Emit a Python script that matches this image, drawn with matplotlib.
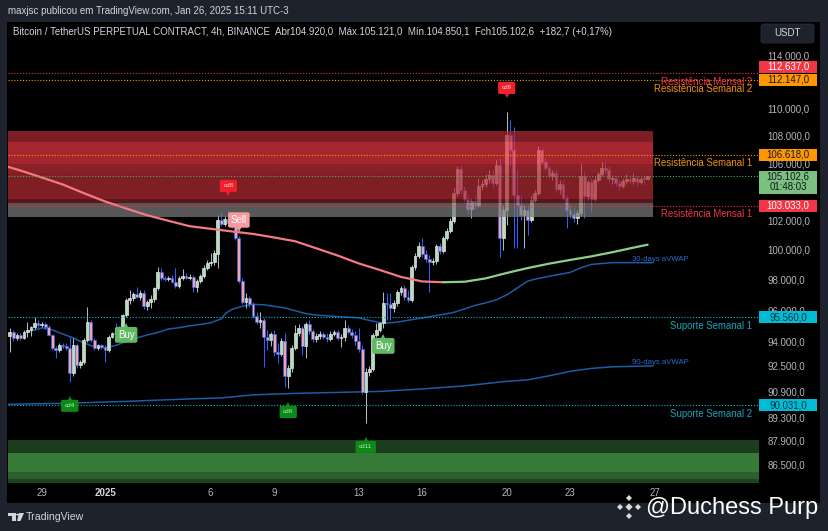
import numpy as np
import pandas as pd
import matplotlib
matplotlib.use("Agg")
import matplotlib.pyplot as plt
import matplotlib.dates as mdates
from matplotlib.patches import Rectangle, Polygon, FancyBboxPatch
from matplotlib.transforms import offset_copy, IdentityTransform, blended_transform_factory
from matplotlib.ticker import NullLocator

plt.rcParams['font.family'] = ['Liberation Sans', 'DejaVu Sans']

W, H = 829, 531

# ---------------- data (prices in thousands of USDT) ----------------
candle_start = "2024-12-27 12:00"   # first 4h candle
open_k = [94.36, 94.61, 94.23, 94.42, 94.23, 94.61, 94.74, 94.93, 95.19, 95.06,
          95.12, 94.93, 94.42, 93.60, 93.47, 93.79, 93.72, 93.60, 92.03, 93.79,
          92.53, 92.72, 94.10, 95.25, 94.10, 93.60, 93.79, 93.66, 93.47, 94.29,
          94.55, 94.48, 94.93, 95.71, 96.68, 96.81, 97.07, 96.87, 97.13, 96.29,
          96.55, 96.74, 97.46, 98.52, 98.12, 98.05, 98.12, 97.86, 97.59, 98.12,
          98.25, 98.12, 98.19, 97.53, 97.92, 98.25, 98.79, 99.12, 99.19, 99.72,
          102.04, 101.76, 102.11, 101.83, 101.69, 100.81, 97.92, 96.55, 96.81, 96.42,
          95.64, 95.25, 95.38, 94.29, 94.10, 94.48, 93.34, 93.22, 94.04, 91.85,
          92.34, 93.60, 94.55, 94.87, 93.72, 95.12, 94.68, 94.16, 94.36, 94.48,
          94.29, 94.16, 94.48, 94.61, 94.23, 94.29, 94.87, 94.61, 94.42, 94.04,
          93.53, 90.86, 92.10, 92.28, 94.42, 94.74, 95.19, 96.48, 96.42, 96.16,
          96.48, 97.20, 97.46, 96.87, 96.68, 98.85, 99.59, 100.26, 99.72, 99.39,
          99.19, 99.26, 100.26, 99.92, 100.81, 101.28, 101.97, 103.91, 105.61, 104.12,
          103.49, 102.80, 103.35, 103.07, 104.40, 104.55, 104.90, 105.18, 104.62, 105.89,
          100.81, 102.73, 108.06, 106.97, 103.77, 103.07, 102.38, 102.73, 102.04, 103.42,
          103.91, 106.97, 106.11, 105.68, 105.11, 105.33, 104.19, 104.55, 103.56, 102.73,
          102.45, 102.18, 102.52, 105.11, 103.70, 104.69, 103.49, 104.83, 105.25, 105.68,
          105.54, 104.90, 104.97, 104.62, 104.40, 104.76, 104.90, 104.76, 104.97, 104.69,
          105.05, 104.920]
high_k = [94.87, 94.74, 94.55, 94.55, 94.74, 95.25, 95.00, 95.57, 95.38, 95.25,
          95.25, 95.06, 94.48, 93.72, 93.91, 93.91, 93.91, 94.29, 94.23, 93.91,
          92.84, 94.23, 96.22, 95.38, 94.23, 93.85, 93.85, 93.79, 94.42, 94.61,
          95.19, 95.00, 95.77, 96.81, 97.33, 97.20, 97.53, 97.33, 97.33, 96.68,
          97.00, 97.53, 98.85, 98.78, 98.25, 98.25, 98.32, 98.78, 98.25, 98.72,
          98.45, 98.39, 98.32, 98.05, 98.39, 98.99, 99.32, 99.79, 99.99, 102.38,
          102.52, 102.31, 102.73, 102.31, 102.04, 100.94, 98.12, 97.13, 96.94, 96.55,
          95.90, 95.90, 95.51, 94.74, 94.61, 94.74, 93.91, 94.23, 94.55, 92.53,
          93.79, 95.06, 95.12, 95.00, 95.25, 95.38, 94.80, 94.55, 94.68, 94.61,
          94.55, 94.68, 94.74, 94.74, 94.48, 95.38, 95.06, 94.80, 94.68, 94.87,
          93.79, 92.34, 92.47, 94.55, 95.19, 95.25, 97.20, 97.13, 97.13, 96.68,
          97.33, 97.59, 97.66, 97.33, 98.99, 99.79, 100.54, 100.81, 99.99, 99.66,
          99.46, 100.40, 100.47, 100.94, 101.49, 102.18, 104.26, 105.82, 105.89, 104.40,
          103.77, 103.56, 103.70, 104.97, 104.83, 105.25, 105.54, 105.54, 106.25, 106.40,
          103.07, 109.75, 109.16, 108.65, 105.54, 103.77, 103.07, 103.07, 103.77, 104.12,
          107.26, 107.12, 106.40, 105.89, 105.54, 105.54, 104.83, 104.83, 103.77, 103.07,
          102.87, 102.73, 106.04, 105.40, 104.83, 104.97, 105.11, 105.40, 106.11, 106.04,
          105.82, 105.18, 105.11, 104.90, 104.97, 105.25, 105.11, 105.33, 105.11, 105.04,
          105.11, 105.121]
low_k = [93.34, 94.04, 94.10, 94.10, 94.16, 94.29, 94.36, 94.80, 94.93, 94.93,
         94.80, 94.36, 93.47, 92.97, 93.34, 93.60, 93.47, 91.48, 91.85, 92.34,
         92.34, 92.59, 93.97, 93.97, 93.47, 93.47, 93.53, 92.72, 93.34, 94.23,
         94.36, 94.42, 94.80, 95.58, 96.42, 96.62, 96.81, 96.68, 96.10, 96.03,
         96.16, 96.55, 97.33, 97.99, 97.92, 97.92, 97.79, 97.46, 97.46, 97.99,
         98.05, 97.99, 97.20, 97.20, 97.79, 98.12, 98.65, 98.92, 98.99, 98.79,
         101.63, 101.63, 101.63, 101.49, 100.67, 97.79, 96.42, 96.16, 96.23, 95.51,
         95.12, 94.87, 92.41, 93.47, 93.72, 93.09, 92.65, 93.09, 91.17, 91.10,
         92.10, 93.47, 94.36, 93.15, 92.97, 94.48, 93.97, 93.97, 94.16, 94.16,
         93.97, 94.04, 94.36, 94.10, 93.66, 94.04, 94.48, 94.23, 93.79, 93.34,
         90.74, 88.98, 91.85, 92.16, 94.29, 94.61, 94.87, 95.38, 95.38, 95.90,
         96.29, 97.00, 96.68, 96.55, 96.55, 98.65, 99.46, 99.52, 99.19, 97.20,
         99.00, 99.06, 99.72, 99.79, 100.67, 101.14, 101.83, 103.70, 103.77, 103.28,
         102.45, 102.18, 102.80, 102.94, 104.12, 104.33, 104.62, 104.26, 104.48, 99.52,
         99.99, 101.69, 105.89, 100.13, 100.13, 102.04, 100.13, 101.01, 101.90, 103.28,
         103.77, 105.89, 105.54, 104.97, 104.83, 103.98, 103.84, 103.42, 101.49, 102.18,
         101.90, 101.76, 102.31, 102.18, 103.42, 102.59, 103.35, 104.69, 105.11, 105.33,
         104.69, 104.55, 104.40, 104.12, 104.26, 104.55, 104.62, 104.55, 104.40, 104.55,
         104.55, 104.8501]
close_k = [94.61, 94.23, 94.42, 94.23, 94.61, 94.74, 94.93, 95.19, 95.06, 95.12,
           94.93, 94.42, 93.60, 93.47, 93.79, 93.72, 93.60, 92.03, 93.79, 92.53,
           92.72, 94.10, 95.25, 94.10, 93.60, 93.79, 93.66, 93.47, 94.29, 94.55,
           94.48, 94.93, 95.71, 96.68, 96.81, 97.07, 96.87, 97.13, 96.29, 96.55,
           96.74, 97.46, 98.52, 98.12, 98.05, 98.12, 97.86, 97.59, 98.12, 98.25,
           98.12, 98.19, 97.53, 97.92, 98.25, 98.79, 99.12, 99.19, 99.79, 102.04,
           101.76, 102.11, 101.83, 101.69, 100.81, 97.92, 96.55, 96.81, 96.42, 95.64,
           95.25, 95.38, 94.29, 94.10, 94.48, 93.34, 93.22, 94.04, 91.85, 92.34,
           93.60, 94.55, 94.87, 93.72, 95.12, 94.68, 94.16, 94.36, 94.48, 94.29,
           94.16, 94.48, 94.61, 94.23, 94.29, 94.87, 94.61, 94.42, 94.04, 93.53,
           90.86, 92.10, 92.28, 94.42, 94.74, 95.19, 96.48, 96.42, 96.16, 96.48,
           97.20, 97.46, 96.87, 96.68, 98.85, 99.59, 100.26, 99.72, 99.39, 99.19,
           99.26, 100.26, 99.92, 100.81, 101.28, 101.97, 103.91, 105.61, 104.12, 103.49,
           102.80, 103.35, 103.07, 104.40, 104.55, 104.90, 105.18, 104.62, 105.89, 100.81,
           102.73, 108.06, 106.97, 103.77, 103.07, 102.38, 102.73, 102.04, 103.42, 103.91,
           106.97, 106.11, 105.68, 105.11, 105.33, 104.19, 104.55, 103.56, 102.73, 102.45,
           102.18, 102.52, 105.11, 103.70, 104.69, 103.49, 104.83, 105.25, 105.68, 105.54,
           104.90, 104.97, 104.62, 104.40, 104.76, 104.90, 104.76, 104.97, 104.69, 104.90,
           104.92, 105.1026]

# moving average (days from 2025-01-01) and anchored VWAPs
ma_days = [-4.6, -4, -3, -2, -1, 0, 1, 2, 3, 4, 5, 6, 7, 8, 9, 10, 11, 12, 13, 14,
           15, 16, 17, 18, 19, 20, 21, 22, 23, 24, 25, 25.67]
ma_k = [105.77, 105.50, 105.01, 104.51, 103.90, 103.32, 102.83, 102.36, 101.98, 101.61,
        101.43, 101.25, 101.08, 100.84, 100.58, 100.10, 99.62, 99.09, 98.65, 98.19,
        97.89, 97.84, 97.87, 98.09, 98.45, 98.78, 99.07, 99.32, 99.56, 99.84, 100.15, 100.35]
v30_days = [-3.7, -3.3, -3, -2.5, -2, -1.5, -1, -0.5, 0, 0.5, 1, 1.5, 2, 2.5, 3, 3.5, 4, 4.5,
            5, 5.5, 5.7, 6, 6.5, 7, 7.5, 8, 8.5, 9, 9.5, 10, 11, 12, 12.5, 13, 13.5, 14, 15,
            16, 16.5, 17, 17.5, 18, 18.5, 19, 19.5, 20, 20.5, 21, 22, 22.5, 23, 24, 25, 25.9]
v30_k = [94.63, 94.74, 94.87, 94.74, 94.48, 94.23, 93.91, 93.66, 93.60, 93.75, 94.01, 94.23,
         94.42, 94.58, 94.80, 94.88, 95.00, 95.09, 95.20, 95.45, 95.80, 96.06, 96.26, 96.39,
         96.36, 96.26, 96.16, 95.97, 95.79, 95.69, 95.60, 95.52, 95.35, 95.22, 95.19, 95.28,
         95.51, 95.74, 95.87, 96.09, 96.32, 96.48, 96.68, 97.00, 97.46, 97.92, 98.09, 98.23,
         98.49, 98.79, 99.02, 99.14, 99.14, 99.14]
v90_days = [-4.6, -2, 1, 4, 5.5, 7, 9, 11, 13, 15, 17, 19, 20, 21, 22, 23, 24, 25.9]
v90_k = [90.10, 90.16, 90.28, 90.43, 90.49, 90.68, 90.77, 90.83, 90.89, 91.04, 91.23, 91.51,
         91.60, 91.85, 92.13, 92.31, 92.41, 92.47]

# zones
red_zone_edges_k = [108.36, 107.58, 105.97, 105.31, 103.50, 103.18, 102.23]
red_zone_end = "2025-01-26 22:00"
green_zone_edges_k = [87.94, 87.21, 86.10, 85.68, 85.0]

# horizontal levels
level_vals = [112637.0, 112147.0, 106618.0, 105102.6, 103033.0, 95560.0, 90031.0]
level_names = ["Resistência Mensal 2", "Resistência Semanal 2", "Resistência Semanal 1", "",
               "Resistência Mensal 1", "Suporte Semanal 1", "Suporte Semanal 2"]
countdown = "01:48:03"

# signals
sig_text = ["cd4", "cd6", "cd11", "cd8", "cd9", "Sell", "Buy", "Buy"]
sig_bar = [17, 79, 101, 62, 141, 65, 33, 106]

# axis
ytick_vals = [114000, 110000, 108000, 106000, 102000, 100000, 98000,
              96000, 94000, 92500, 90900, 89300, 87900, 86500]
xtick_days = [-3, 0, 5, 8, 12, 15, 19, 22, 26]
xtick_labels = ["29", "2025", "6", "9", "13", "16", "20", "23", "27"]

# ---------------- figure ----------------
def brl(v, dec=1):
    s = f"{v:,.{dec}f}"
    return s.replace(",", "X").replace(".", ",").replace("X", ".")

def F(x, y):
    return (x / W, 1 - y / H)

FRAME = '#1e222d'
fig = plt.figure(figsize=(W / 100, H / 100), dpi=100, facecolor=FRAME)
fig.add_artist(Rectangle(F(7.5, 503), (820 - 7.5) / W, (503 - 22) / H,
                         transform=fig.transFigure, facecolor='black', edgecolor='none', zorder=-5))

ax = fig.add_axes([8 / W, 1 - 482 / H, 750 / W, 460 / H])
ax.set_facecolor('black')
for s in ax.spines.values():
    s.set_visible(False)

base = mdates.date2num(pd.Timestamp("2025-01-01"))
xl = (base - 4.589, base + 30.89)

o = np.array(open_k) * 1000
h = np.array(high_k) * 1000
l = np.array(low_k) * 1000
c = np.array(close_k) * 1000
xs = mdates.date2num(pd.date_range(candle_start, periods=len(o), freq="4h"))

ax.set_yscale('log')
ax.set_ylim(85500, 116620)
ax.set_xlim(*xl)

# green zone
gcols = ['#1b3d1d', '#377a38', '#2b602e', '#1d431f']
for k in range(len(green_zone_edges_k) - 1):
    ax.fill_between([xl[0] - 1, xl[1] + 1], green_zone_edges_k[k] * 1000, green_zone_edges_k[k + 1] * 1000,
                    color=gcols[k], lw=0, zorder=1)

# VWAPs
ax.plot(base + np.array(v30_days), np.array(v30_k) * 1000, color='#1f5aa6', lw=1.1, zorder=2)
ax.plot(base + np.array(v90_days), np.array(v90_k) * 1000, color='#1f5aa6', lw=1.1, zorder=2)
ax.text(base + 27.6, v30_k[-1] * 1000, "30-days aVWAP", ha='right', va='bottom', fontsize=5.6,
        color='#2a6bd1', zorder=6)
ax.text(base + 27.6, v90_k[-1] * 1000, "90-days aVWAP", ha='right', va='bottom', fontsize=5.6,
        color='#2a6bd1', zorder=6)

# candles
up = c >= o
bw = 0.135
ax.vlines(xs[up], l[up], h[up], colors='#b3b7c0', lw=0.75, zorder=3)
ax.vlines(xs[~up], l[~up], h[~up], colors='#2962ff', lw=0.75, zorder=3)
ax.bar(xs[up], np.maximum(c - o, 5)[up], bottom=o[up], width=bw, color='#b5dfb6',
       edgecolor='#e0e3ea', linewidth=0.5, zorder=3.1)
ax.bar(xs[~up], (o - c)[~up], bottom=c[~up], width=bw, color='#f4a3ab',
       edgecolor='#2f63e6', linewidth=0.5, zorder=3.1)

# red zone (semi transparent over candles)
rcols = ['#af2b36', '#e83543', '#c02f39', '#b22b35', '#831d23', '#7a7a7a']
zend = mdates.date2num(pd.Timestamp(red_zone_end))
for k in range(len(red_zone_edges_k) - 1):
    ax.fill_between([xl[0] - 1, zend], red_zone_edges_k[k] * 1000, red_zone_edges_k[k + 1] * 1000,
                    color=rcols[k], alpha=0.72, lw=0, zorder=4)

# moving average: red while falling, green while rising
md = base + np.array(ma_days)
mv = np.array(ma_k) * 1000
imin = int(np.argmin(mv))
ax.plot(md[:imin + 1], mv[:imin + 1], color='#f27a80', lw=1.6, zorder=5, solid_capstyle='round')
ax.plot(md[imin:], mv[imin:], color='#8bd08c', lw=1.6, zorder=5, solid_capstyle='round')

# horizontal levels
lv_line = ['#f23645', '#ff9800', '#ff9800', '#4caf50', '#f23645', '#00bcd4', '#00bcd4']
lv_text = ['#f23645', '#f29410', '#f29410', '#4caf50', '#f23645', '#17a6bd', '#17a6bd']
bl = blended_transform_factory(ax.transAxes, ax.transData)
for v, name, lc, tc in zip(level_vals, level_names, lv_line, lv_text):
    ax.axhline(v, color=lc, lw=0.8, ls=(0, (1, 1.6)), zorder=5.5)
    if name:
        ax.annotate(name, xy=(0.992, v), xycoords=bl, xytext=(0, -6.2), textcoords='offset points',
                    ha='right', va='center', fontsize=6.9, color=tc, zorder=6)

# signals
def signal(i, text):
    x = xs[i]
    if text.startswith('cd'):
        above = text in ('cd8', 'cd9')
        fc = '#f0202c' if above else '#0c8a17'
        tcol = '#ffd6d6' if above else '#bfe8bf'
        fs, off, pad, half = 4.6, 24, 0.55, 6
    elif text == 'Sell':
        above, fc, tcol, fs, off, pad, half = True, '#f49ba0', 'white', 7, 16, 0.28, 7.5
    else:
        above, fc, tcol, fs, off, pad, half = False, '#62b964', 'white', 7, 18, 0.3, 8
    yv = h[i] if above else l[i]
    sg = 1 if above else -1
    tr = offset_copy(ax.transData, fig=fig, x=0, y=sg * off * 0.72, units='points')
    ax.text(x, yv, text, transform=tr, ha='center', va='center', fontsize=fs, color=tcol, zorder=8,
            bbox=dict(boxstyle=f'round,pad={pad},rounding_size=0.2', fc=fc, ec='none'))
    tr2 = offset_copy(ax.transData, fig=fig, x=0, y=sg * (off - half - 1.2) * 0.72, units='points')
    ax.plot([x], [yv], marker='v' if above else '^', ms=4.2, mew=0, color=fc, transform=tr2, zorder=8)

for i, t in zip(sig_bar, sig_text):
    signal(i, t)

# ticks
ax.yaxis.tick_right()
ax.set_yticks(ytick_vals)
ax.set_yticklabels([brl(v) for v in ytick_vals])
ax.yaxis.set_minor_locator(NullLocator())
ax.tick_params(axis='y', length=0, pad=7, labelsize=7, labelcolor='#b2b5be')
ax.set_xticks(base + np.array(xtick_days))
ax.set_xticklabels(xtick_labels)
ax.xaxis.set_minor_locator(NullLocator())
ax.tick_params(axis='x', length=0, pad=4.5, labelsize=7, labelcolor='#b2b5be')
for lab in ax.get_xticklabels():
    if lab.get_text() == '2025':
        lab.set_fontweight('bold')
        lab.set_color('#d1d4dc')

# price-axis labels (pixel boxes)
I = IdentityTransform()
def ydisp(v):
    return ax.transData.transform((xl[0], v))[1]

box_fc = ['#f23645', '#ff9800', '#ff9800', '#7cc07f', '#f23645', '#00bcd4', '#00bcd4']
box_tc = ['white', '#131722', '#131722', '#131722', 'white', '#0d3440', '#0d3440']
box_dy = [6.8, 0, 0, 0, 0, 0, 0]
for v, fc, tc, dy in zip(level_vals, box_fc, box_tc, box_dy):
    yd = ydisp(v) + dy
    if abs(v - 105102.6) < 1:
        fig.add_artist(Rectangle((759, yd - 17.9), 58, 23.3, transform=I, fc=fc, ec='none', zorder=5))
        fig.text(788, yd, brl(v), transform=I, ha='center', va='center', fontsize=7, color=tc, zorder=6)
        fig.text(788, yd - 11, countdown, transform=I, ha='center', va='center', fontsize=7,
                 color=tc, zorder=6)
    else:
        fig.add_artist(Rectangle((759, yd - 6), 58, 12, transform=I, fc=fc, ec='none', zorder=5))
        fig.text(788, yd, brl(v), transform=I, ha='center', va='center', fontsize=7, color=tc, zorder=6)

# header texts
fig.text(*F(8, 11), "maxjsc publicou em TradingView.com, Jan 26, 2025 15:11 UTC-3",
         fontsize=7, color='#d1d4dc', va='center', ha='left')
fig.text(*F(13, 32), "Bitcoin / TetherUS PERPETUAL CONTRACT, 4h, BINANCE  Abr104.920,0  Máx.105.121,0  "
         "Mín.104.850,1  Fch105.102,6  +182,7 (+0,17%)", fontsize=7, color='#d1d4dc', va='center', ha='left')
fig.add_artist(FancyBboxPatch(F(761, 43), 53 / W, 19 / H, boxstyle='round,pad=0,rounding_size=0.004',
                              transform=fig.transFigure, fc='#1e222d', ec='#2a2e39', lw=0.6, zorder=5))
fig.text(*F(787.5, 33.5), "USDT", fontsize=7, color='#d1d4dc', va='center', ha='center', zorder=6)

# TradingView logo + name
tvc = '#d1d4dc'
fig.add_artist(Polygon([F(8, 513), F(16, 513), F(16, 521), F(12.5, 521), F(12.5, 516), F(8, 516)],
                       closed=True, transform=fig.transFigure, fc=tvc, ec='none'))
fig.add_artist(Polygon([F(19, 513), F(24, 513), F(20.5, 521), F(17, 521)],
                       closed=True, transform=fig.transFigure, fc=tvc, ec='none'))
fig.add_artist(plt.Circle(F(17.6, 514.6), 1.5 / W, transform=fig.transFigure, fc=tvc, ec='none'))
fig.text(*F(26, 517), "TradingView", fontsize=7.6, color=tvc, va='center', ha='left')

# watermark with diamond logo
wc = '#dcdcdc'
def diamond(cx, cy, r):
    fig.add_artist(Polygon([F(cx, cy - r), F(cx + r, cy), F(cx, cy + r), F(cx - r, cy)], closed=True,
                           transform=fig.transFigure, fc=wc, ec='none', zorder=7))
diamond(629, 507, 3.6)
for dx, dy in [(-9, 0), (9, 0), (0, -9), (0, 9)]:
    diamond(629 + dx, 507 + dy, 3.0)
fig.text(*F(646, 508), "@Duchess Purp", fontsize=17, color='white', va='center', ha='left', zorder=7)

fig.savefig("out.png", dpi=100, facecolor=FRAME)
